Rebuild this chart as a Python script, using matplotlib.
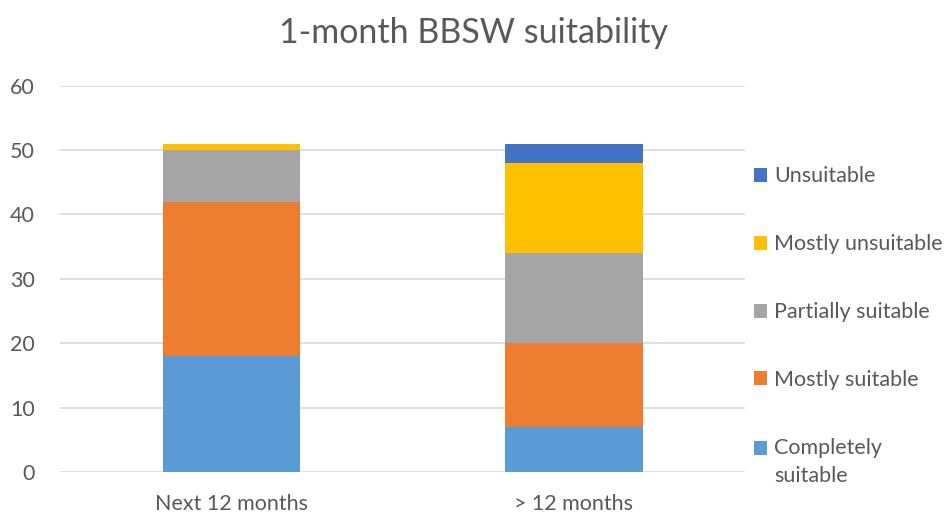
import matplotlib
matplotlib.use("Agg")
import matplotlib.pyplot as plt
from matplotlib.legend_handler import HandlerPatch
from matplotlib.patches import Rectangle
import numpy as np

plt.rcParams['font.family'] = ['Lato', 'DejaVu Sans']

categories = ["Next 12 months", "> 12 months"]
series_names = ["Completely\nsuitable", "Mostly suitable", "Partially suitable", "Mostly unsuitable", "Unsuitable"]
completely_suitable = [18, 7]
mostly_suitable = [24, 13]
partially_suitable = [8, 14]
mostly_unsuitable = [1, 14]
unsuitable = [0, 3]
colors = ["#5B9BD5", "#ED7D31", "#A5A5A5", "#FFC000", "#4472C4"]
yticks = [0, 10, 20, 30, 40, 50, 60]

series = [completely_suitable, mostly_suitable, partially_suitable, mostly_unsuitable, unsuitable]

FS = 15.5
fig = plt.figure(figsize=(9.47, 5.15), dpi=100)
ax = fig.add_axes([0.0634, 0.0835, 0.7236, 0.75])

x = np.arange(len(categories))
bottom = np.zeros(len(categories))
handles = []
for name, vals, c in zip(series_names, series, colors):
    b = ax.bar(x, vals, 0.4, bottom=bottom, color=c, label=name, zorder=3)
    bottom += np.array(vals)
    handles.append(b)

ax.set_xlim(-0.5, 1.5)
ax.set_ylim(0, 60)
ax.set_yticks(yticks)
ax.set_xticks(x)
ax.set_xticklabels(categories)
ax.grid(axis='y', color='#D9D9D9', linewidth=1.2, zorder=0)
for s in ax.spines.values():
    s.set_visible(False)
ax.tick_params(axis='both', length=0, labelsize=FS, colors='#595959')
ax.tick_params(axis='x', pad=15.5)
ax.tick_params(axis='y', pad=18)

fig.text(0.5, 0.936, "1-month BBSW suitability", fontsize=24.5, color='#595959',
         ha='center', va='center')


class SquareHandler(HandlerPatch):
    def __init__(self, shift=0.0, **kw):
        super().__init__(**kw)
        self.shift = shift

    def create_artists(self, legend, orig_handle, xdescent, ydescent, width, height, fontsize, trans):
        p = Rectangle((-xdescent, -ydescent + self.shift), width, width,
                      facecolor=orig_handle.get_facecolor(), edgecolor='none', transform=trans)
        return [p]


bar_patches = [h.patches[0] for h in handles]
handler_map = {bar_patches[0]: SquareHandler(shift=10.5)}
for p in bar_patches[1:]:
    handler_map[p] = SquareHandler(shift=0.0)

leg = ax.legend(bar_patches[::-1], series_names[::-1], loc='upper left',
                bbox_to_anchor=(0.99, 0.83), frameon=False, fontsize=FS,
                labelcolor='#595959', handlelength=0.65, handleheight=0.65,
                handletextpad=0.3, labelspacing=2.22, borderaxespad=0.3,
                handler_map=handler_map)
for t in leg.get_texts():
    t.set_linespacing(1.55)

fig.savefig("out.png", dpi=100)
